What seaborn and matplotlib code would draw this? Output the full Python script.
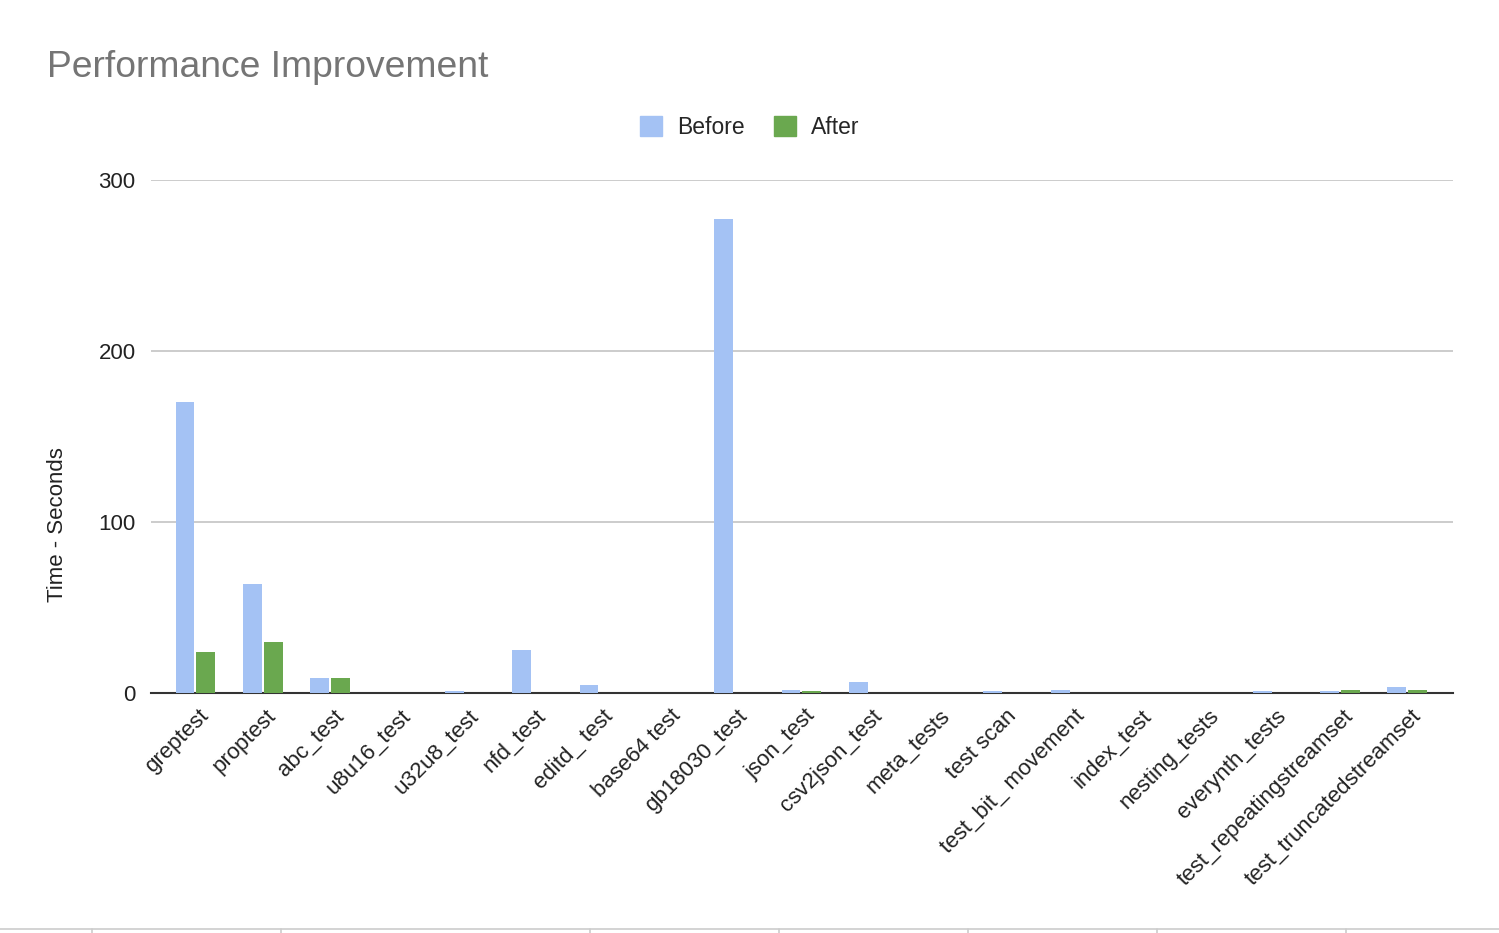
import matplotlib.pyplot as plt
import matplotlib.transforms as mtransforms
import matplotlib.lines as mlines
import matplotlib.patches as mpatches
import pandas as pd
import seaborn as sns

tests = [
    "greptest", "proptest", "abc_test", "u8u16_test", "u32u8_test", "nfd_test",
    "editd_ test", "base64 test", "gb18030_test", "json_test", "csv2json_test",
    "meta_tests", "test scan", "test_bit_ movement", "index_test", "nesting_tests",
    "everynth_tests", "test_repeatingstreamset", "test_truncatedstreamset",
]
before = [170, 64, 9, 0, 1, 25, 4.5, 0, 277, 2, 6.5, 0, 1, 2, 0, 0, 1, 1, 3.5]
after = [24, 30, 9, 0, 0, 0, 0, 0, 0, 1, 0, 0, 0, 0, 0, 0, 0, 2, 2]

colors = {"Before": "#a4c2f4", "After": "#6aa84f"}

df = pd.DataFrame({"Test": tests, "Before": before, "After": after})
df = df.melt(id_vars="Test", var_name="Run", value_name="Seconds")

sns.set_theme(style="white")
plt.rcParams["font.family"] = ["Liberation Sans", "DejaVu Sans"]

fig = plt.figure(figsize=(14.99, 9.33), dpi=100)
ax = fig.add_axes([151 / 1499, 1 - 693 / 933, 1302 / 1499, 513 / 933])

sns.barplot(
    data=df, x="Test", y="Seconds", hue="Run", palette=colors,
    width=0.62, gap=0.1, ax=ax, legend=False, saturation=1, zorder=3,
    linewidth=0,
)

ax.set_ylim(0, 300)
ax.set_xlim(-0.66, 18.68)
ax.set_yticks([0, 100, 200, 300])
ax.yaxis.grid(True, color="#cccccc", linewidth=1.4, zorder=0)
ax.set_axisbelow(True)
for side in ["top", "right", "left"]:
    ax.spines[side].set_visible(False)
ax.spines["bottom"].set_color("#333333")
ax.spines["bottom"].set_linewidth(1.5)
ax.spines["bottom"].set_zorder(1)

ax.tick_params(axis="y", length=0, pad=11, labelsize=16, labelcolor="#222222")
ax.tick_params(axis="x", length=0, pad=9, labelsize=16, labelcolor="#222222")
offset = mtransforms.ScaledTranslation(0.03, 0, fig.dpi_scale_trans)
for lbl in ax.get_xticklabels():
    lbl.set_rotation(45)
    lbl.set_ha("right")
    lbl.set_va("top")
    lbl.set_rotation_mode("anchor")
    lbl.set_transform(lbl.get_transform() + offset)

ax.set_xlabel("")
ax.set_ylabel("Time - Seconds", fontsize=16, color="#222222")
ax.yaxis.set_label_coords(-0.064, (693 - 525) / 513)

fig.text(47 / 1499, 1 - 77 / 933, "Performance Improvement", fontsize=26.8,
         color="#757575", va="baseline", ha="left")

handles = [mpatches.Patch(color=colors[k], label=k) for k in ["Before", "After"]]
fig.legend(handles=handles, loc="center", bbox_to_anchor=(750 / 1499, 1 - 127 / 933),
           ncol=2, frameon=False, fontsize=16.5, handlelength=0.95, handleheight=0.95,
           handletextpad=0.65, columnspacing=1.3)

# bottom border of the frame
fig.add_artist(mlines.Line2D([0, 1], [1 - 929 / 933] * 2, color="#cccccc", linewidth=1.2))
for xp in [92, 281, 590, 779, 968, 1157, 1346]:
    fig.add_artist(mlines.Line2D([xp / 1499] * 2, [1 - 929 / 933, 0], color="#cccccc", linewidth=1.2))

fig.savefig("out.png", dpi=100)
